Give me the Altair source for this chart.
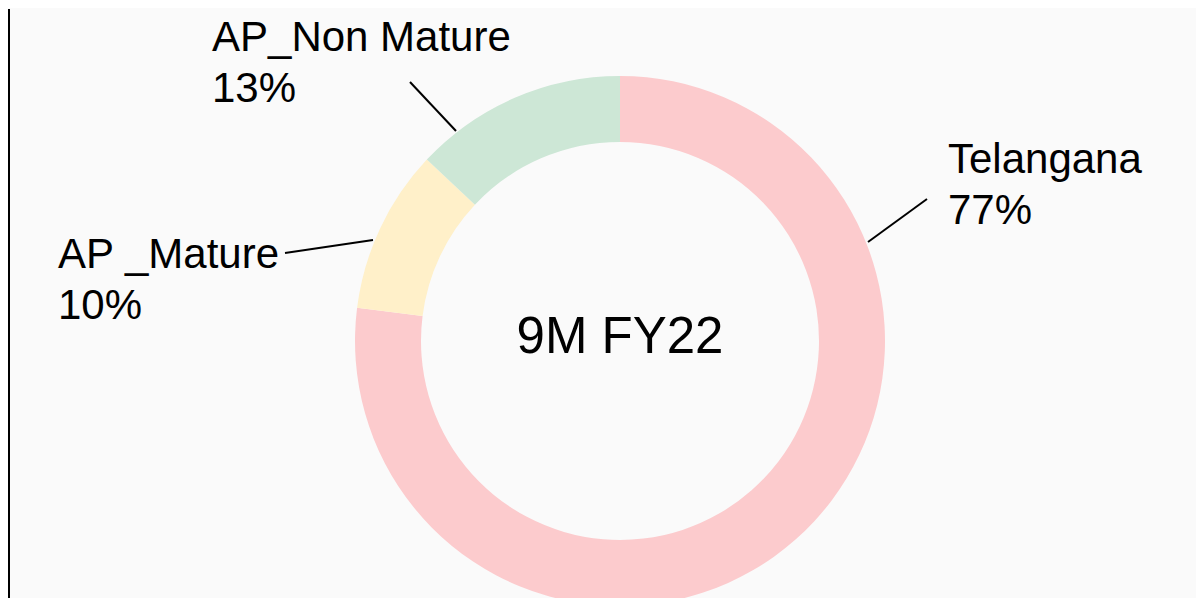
import altair as alt
import pandas as pd

# Data
categories = ["Telangana", "AP _Mature", "AP_Non Mature"]
values = [77, 10, 13]
colors = ["#fccbcd", "#fff0c9", "#cde7d6"]
center_title = "9M FY22"

# Annotation layout (chart pixel coordinates)
label_x = [940, 50, 204]
label_y = [164, 259, 42]
line_x1 = [860, 277, 402]
line_y1 = [233, 244, 73]
line_x2 = [919, 365, 448]
line_y2 = [190, 231, 122]

W, H = 1188, 590
CX, CY = 612, 332

df = pd.DataFrame({"category": categories, "value": values, "order": list(range(len(categories)))})
lab = pd.DataFrame({
    "category": categories,
    "pct": [f"{v}%" for v in values],
    "lx": label_x,
    "ly": label_y,
    "ly2": [y + 51 for y in label_y],
})
lines = pd.DataFrame({"x1": line_x1, "y1": line_y1, "x2": line_x2, "y2": line_y2})

arc = alt.Chart(df).mark_arc(innerRadius=199, outerRadius=265, stroke=None).encode(
    theta=alt.Theta("value:Q", stack=True),
    order=alt.Order("order:Q"),
    color=alt.Color("category:N", scale=alt.Scale(domain=categories, range=colors), legend=None),
    x=alt.value(CX),
    y=alt.value(CY),
)

font = "Liberation Sans"
names = alt.Chart(lab).mark_text(align="left", baseline="alphabetic", fontSize=42, font=font, color="#000000").encode(
    x=alt.X("lx:Q", scale=None, axis=None),
    y=alt.Y("ly:Q", scale=None, axis=None),
    text="category:N",
)
pcts = alt.Chart(lab).mark_text(align="left", baseline="alphabetic", fontSize=42, font=font, color="#000000").encode(
    x=alt.X("lx:Q", scale=None, axis=None),
    y=alt.Y("ly2:Q", scale=None, axis=None),
    text="pct:N",
)
leaders = alt.Chart(lines).mark_rule(color="#000000", strokeWidth=2).encode(
    x=alt.X("x1:Q", scale=None, axis=None),
    y=alt.Y("y1:Q", scale=None, axis=None),
    x2="x2:Q",
    y2="y2:Q",
)
center = alt.Chart(pd.DataFrame({"t": [center_title]})).mark_text(
    align="center", baseline="alphabetic", fontSize=51, font=font, color="#000000"
).encode(x=alt.value(CX), y=alt.value(344), text="t:N")

border = alt.Chart(pd.DataFrame({"a": [0]})).mark_rule(color="#000000", strokeWidth=2).encode(
    x=alt.value(1), y=alt.value(0), y2=alt.value(H)
)

chart = alt.layer(arc, leaders, names, pcts, center, border).properties(
    width=W, height=H,
    autosize=alt.AutoSizeParams(type="fit", contains="padding"),
    padding=0,
    background="#fafafa",
).configure_view(stroke=None)

chart.save("out.html", embed_options={"renderer": "svg", "actions": False})
